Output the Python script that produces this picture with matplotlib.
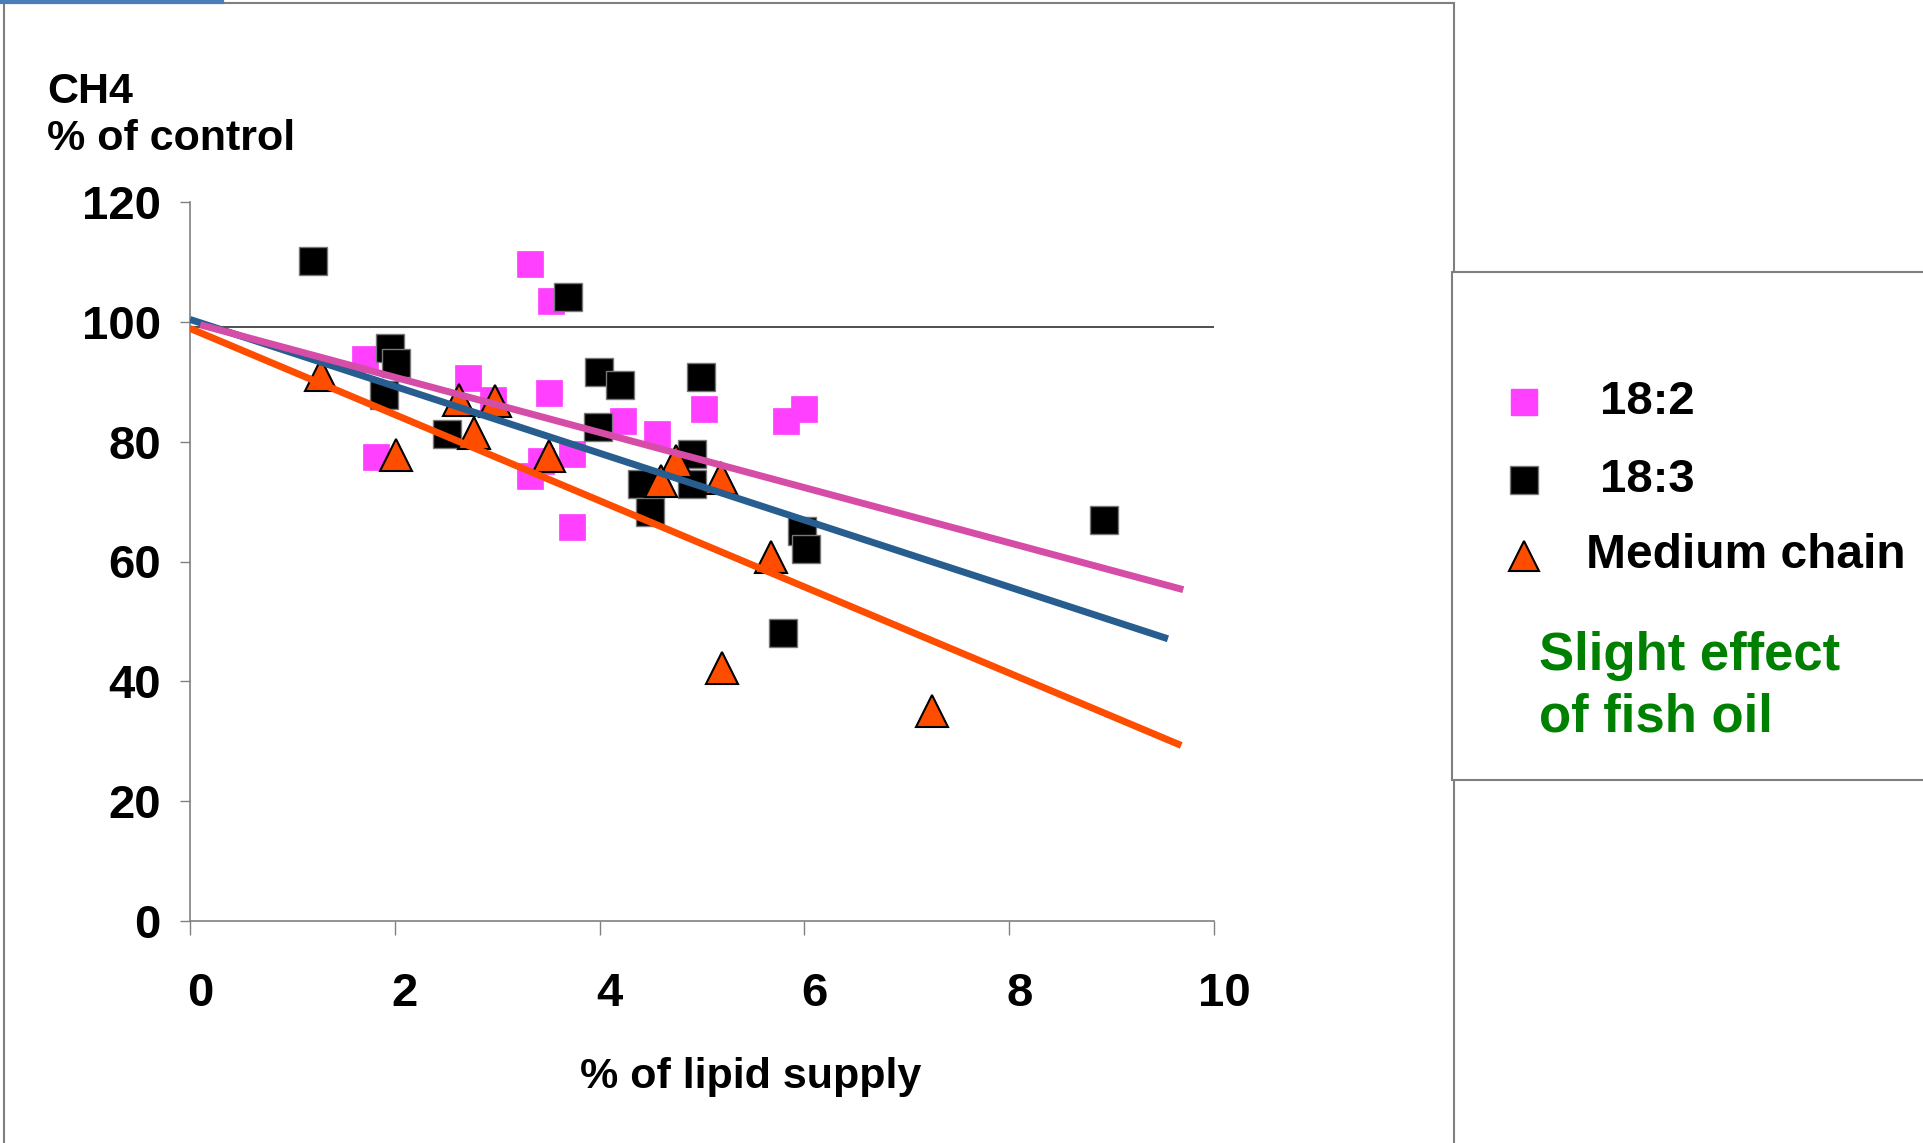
import matplotlib.pyplot as plt
from matplotlib.lines import Line2D
from matplotlib.patches import Rectangle
from matplotlib.transforms import ScaledTranslation

plt.rcParams['font.family'] = ['Liberation Sans', 'DejaVu Sans']
plt.rcParams['font.weight'] = 'bold'

# 18:2
pink_x = [3.32, 3.53, 1.71, 2.71, 2.96, 3.51, 4.23, 4.56, 5.02, 5.82, 6.00, 1.82, 3.32, 3.43, 3.73, 3.73, 1.95]
pink_y = [109.6, 103.4, 93.8, 90.7, 87.0, 88.2, 83.5, 81.3, 85.5, 83.5, 85.5, 77.4, 74.2, 76.7, 78.0, 65.7, 95.5]
# 18:3
black_x = [1.20, 3.69, 1.95, 2.01, 1.89, 2.51, 3.99, 4.20, 4.99, 3.98, 4.90, 4.41, 4.90, 4.49, 5.98, 6.02, 5.79, 8.93]
black_y = [110.2, 104.2, 95.7, 93.2, 87.8, 81.3, 91.7, 89.5, 90.8, 82.5, 78.0, 73.0, 73.0, 68.3, 65.1, 62.1, 48.1, 67.0]
# Medium chain
tri_x = [1.28, 2.01, 2.63, 2.98, 2.77, 3.51, 4.75, 4.60, 5.19, 5.67, 5.20, 7.25]
tri_y = [91.2, 77.8, 87.0, 86.8, 81.5, 77.6, 76.7, 73.4, 74.0, 60.8, 42.3, 35.0]

# trend lines (end points)
pink_line_x = [0.1, 9.7]
pink_line_y = [99.5, 55.3]
blue_line_x = [0.0, 9.55]
blue_line_y = [100.4, 47.1]
orange_line_x = [0.0, 9.68]
orange_line_y = [98.9, 29.3]

ref_level = 99.2
xticks = [0, 2, 4, 6, 8, 10]
yticks = [0, 20, 40, 60, 80, 100, 120]

PINK = '#FF40FF'
PINK_LINE = '#D64DA8'
BLUE_LINE = '#275D8F'
ORANGE = '#FF4D00'
GREEN = '#008000'

W, H = 1923, 1143
fig = plt.figure(figsize=(W / 100, H / 100), dpi=100)


def fx(px):
    return px / W


def fy(py):
    return 1 - py / H


# slide frame
fig.add_artist(Rectangle((fx(4), fy(1150)), fx(1454) - fx(4), fy(3) - fy(1150),
                         transform=fig.transFigure, fill=False, ec='#7f7f7f', lw=1.5))
fig.add_artist(Line2D([0, fx(222)], [fy(2), fy(2)], transform=fig.transFigure,
                      color='#4A7EBB', lw=3))

ax = fig.add_axes([fx(190), fy(921), fx(1214) - fx(190), fy(202) - fy(921)])
ax.set_xlim(0, 10)
ax.set_ylim(0, 120)

ax.plot(pink_x, pink_y, 's', ms=18.5, mfc=PINK, mec=PINK, mew=0.5, zorder=3)
ax.plot(black_x, black_y, 's', ms=20.5, mfc='black', mec='#777777', mew=1, zorder=4)
ax.plot(tri_x, tri_y, '^', ms=22.5, mfc=ORANGE, mec='black', mew=1.5, zorder=5)
ax.plot(orange_line_x, orange_line_y, color=ORANGE, lw=5, solid_capstyle='butt', zorder=6)
ax.plot(blue_line_x, blue_line_y, color=BLUE_LINE, lw=5, solid_capstyle='butt', zorder=6)
ax.plot(pink_line_x, pink_line_y, color=PINK_LINE, lw=5, solid_capstyle='butt', zorder=7)
ax.axhline(ref_level, color='#404040', lw=1.3, zorder=2)

for s in ['top', 'right']:
    ax.spines[s].set_visible(False)
for s in ['left', 'bottom']:
    ax.spines[s].set_color('#808080')
    ax.spines[s].set_linewidth(1.2)

ax.set_xticks(xticks)
ax.set_yticks(yticks)
ax.tick_params(axis='y', length=7, width=1, color='#808080', pad=14, labelsize=34)
ax.tick_params(axis='x', length=10, width=1, color='#808080', pad=27, labelsize=34)
for lab in ax.get_xticklabels() + ax.get_yticklabels():
    lab.set_fontweight('bold')
shift = ScaledTranslation(0.10, 0, fig.dpi_scale_trans)
for lab in ax.get_xticklabels():
    lab.set_transform(lab.get_transform() + shift)

fig.text(fx(47), fy(103), 'CH4', fontsize=31, fontweight='bold', va='baseline', ha='left')
fig.text(fx(47), fy(150), '% of control', fontsize=31, fontweight='bold', va='baseline', ha='left')
fig.text(fx(751), fy(1077), '% of lipid supply', fontsize=31, fontweight='bold', va='center', ha='center')

# legend box
fig.add_artist(Rectangle((fx(1452), fy(780)), fx(2000) - fx(1452), fy(272) - fy(780),
                         transform=fig.transFigure, fc='white', ec='#7f7f7f', lw=1.5, zorder=10))
fig.add_artist(Line2D([fx(1524)], [fy(402)], transform=fig.transFigure, marker='s', ms=19,
                      mfc=PINK, mec=PINK, ls='none', zorder=11))
fig.add_artist(Line2D([fx(1524)], [fy(480)], transform=fig.transFigure, marker='s', ms=20,
                      mfc='black', mec='#777777', ls='none', zorder=11))
fig.add_artist(Line2D([fx(1524)], [fy(556)], transform=fig.transFigure, marker='^', ms=22,
                      mfc=ORANGE, mec='black', mew=1.5, ls='none', zorder=11))
fig.text(fx(1600), fy(402), '18:2', fontsize=34, fontweight='bold', va='center', ha='left', zorder=11)
fig.text(fx(1600), fy(480), '18:3', fontsize=34, fontweight='bold', va='center', ha='left', zorder=11)
fig.text(fx(1586), fy(556), 'Medium chain', fontsize=34.5, fontweight='bold', va='center', ha='left', zorder=11)
fig.text(fx(1539), fy(656), 'Slight effect', fontsize=38, fontweight='bold', color=GREEN,
         va='center', ha='left', zorder=11)
fig.text(fx(1539), fy(718), 'of fish oil', fontsize=38, fontweight='bold', color=GREEN,
         va='center', ha='left', zorder=11)

fig.savefig('out.png', dpi=100)
